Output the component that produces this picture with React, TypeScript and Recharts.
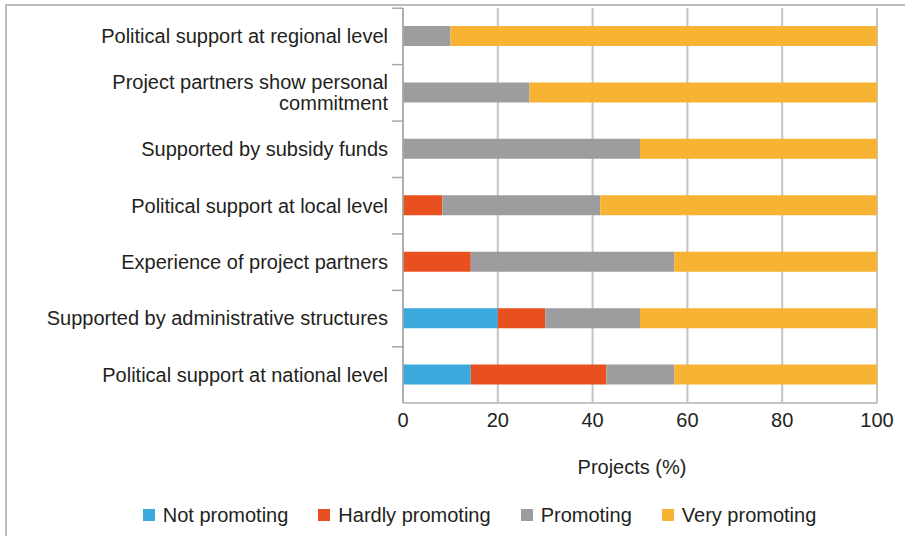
import { BarChart, Bar, XAxis, YAxis, CartesianGrid, Legend } from 'recharts';

const categories = [
  'Political support at regional level',
  'Project partners show personal\ncommitment',
  'Supported by subsidy funds',
  'Political support at local level',
  'Experience of project partners',
  'Supported by administrative structures',
  'Political support at national level',
];
const notPromoting = [0, 0, 0, 0, 0, 20, 14.3];
const hardlyPromoting = [0, 0, 0, 8.3, 14.3, 10, 28.6];
const promoting = [10, 26.7, 50, 33.3, 42.9, 20, 14.3];
const veryPromoting = [90, 73.3, 50, 58.4, 42.8, 50, 42.8];
const xTicks = [0, 20, 40, 60, 80, 100];

const series = [
  { key: 'notPromoting', name: 'Not promoting', color: '#3aa9db' },
  { key: 'hardlyPromoting', name: 'Hardly promoting', color: '#e8501f' },
  { key: 'promoting', name: 'Promoting', color: '#9d9d9f' },
  { key: 'veryPromoting', name: 'Very promoting', color: '#f7b334' },
];

const data = categories.map((category, i) => ({
  category,
  notPromoting: notPromoting[i],
  hardlyPromoting: hardlyPromoting[i],
  promoting: promoting[i],
  veryPromoting: veryPromoting[i],
}));

const FONT = '"Liberation Sans", Arial, sans-serif';
const TEXT = '#231f20';
const GRID = '#c4c4c4';

function CategoryTick({ x, y, payload }: any) {
  const lines: string[] = String(payload.value).split('\n');
  const start = -((lines.length - 1) * 21) / 2;
  return (
    <g>
      <line x1={x + 3} x2={x + 14} y1={y - 28} y2={y - 28} stroke="#a8a8a8" strokeWidth={1.5} />
      <text x={x - 1} y={y} textAnchor="end" fill={TEXT} fontSize={20} fontFamily={FONT}>
        {lines.map((l, i) => (
          <tspan key={i} x={x - 1} y={y + start + i * 21} dy="0.35em">
            {l}
          </tspan>
        ))}
      </text>
    </g>
  );
}

function LegendContent() {
  return (
    <div
      style={{
        display: 'flex',
        justifyContent: 'center',
        alignItems: 'center',
        gap: 30,
        height: 30,
        paddingLeft: 82,
        fontFamily: FONT,
      }}
    >
      {series.map((s) => (
        <div key={s.key} style={{ display: 'flex', alignItems: 'center', fontSize: 20, color: TEXT }}>
          <span style={{ width: 12, height: 12, background: s.color, marginRight: 8, display: 'inline-block' }} />
          {s.name}
        </div>
      ))}
    </div>
  );
}

export default function App() {
  return (
    <div style={{ position: 'absolute', left: 0, top: 0, width: 905, height: 536, background: '#fff' }}>
      <div
        style={{
          position: 'absolute',
          left: 5,
          top: 4,
          width: 905,
          height: 540,
          borderTop: '2px solid #bcbcbc',
          borderLeft: '2px solid #bcbcbc',
          boxSizing: 'border-box',
        }}
      />
      <BarChart
        width={905}
        height={536}
        layout="vertical"
        data={data}
        barSize={20}
        margin={{ top: 8, right: 28, bottom: 6, left: 0 }}
        style={{ position: 'absolute', left: 0, top: 0 }}
      >
        <CartesianGrid horizontal={false} stroke={GRID} strokeWidth={2} />
        <XAxis
          type="number"
          domain={[0, 100]}
          ticks={xTicks}
          height={97}
          axisLine={{ stroke: GRID, strokeWidth: 2 }}
          tickLine={false}
          tick={{ fill: TEXT, fontSize: 20, fontFamily: FONT }}
          tickMargin={4}
          label={{
            value: 'Projects (%)',
            position: 'insideBottom',
            offset: 26,
            dx: -8,
            fill: TEXT,
            fontSize: 20,
            fontFamily: FONT,
          }}
        />
        <YAxis
          type="category"
          dataKey="category"
          width={403}
          axisLine={{ stroke: '#a8a8a8', strokeWidth: 1.5 }}
          tickLine={false}
          tickSize={14}
          tickMargin={0}
          interval={0}
          tick={<CategoryTick />}
        />
        <Legend verticalAlign="bottom" content={<LegendContent />} />
        {series.map((s) => (
          <Bar key={s.key} dataKey={s.key} name={s.name} stackId="a" fill={s.color} isAnimationActive={false} />
        ))}
      </BarChart>
    </div>
  );
}
